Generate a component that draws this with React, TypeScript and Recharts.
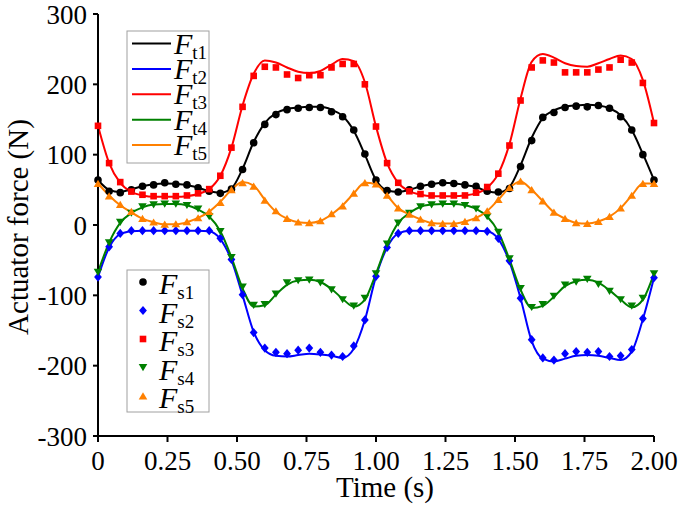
import { ComposedChart, Line, XAxis, YAxis } from "recharts";

const W = 685;
const H = 506;

// time grid (s)
const time = [
  0, 0.04, 0.08, 0.12, 0.16, 0.2, 0.24, 0.28, 0.32, 0.36, 0.4, 0.44, 0.48, 0.52, 0.56, 0.6, 0.64, 0.68, 0.72, 0.76,
  0.8, 0.84, 0.88, 0.92, 0.96, 1.0, 1.04, 1.08, 1.12, 1.16, 1.2, 1.24, 1.28, 1.32, 1.36, 1.4, 1.44, 1.48, 1.52, 1.56,
  1.6, 1.64, 1.68, 1.72, 1.76, 1.8, 1.84, 1.88, 1.92, 1.96, 2.0,
];

// theoretical curves
const ft1 = [
  64, 50, 47, 51, 55, 58, 59, 58.5, 57, 53, 48, 46, 52, 80, 118, 145, 159, 165, 167, 168, 168, 164, 155, 134, 100, 64,
  49, 47, 50, 55, 58, 60, 59.5, 57, 54, 48, 46, 54, 85, 124, 152, 163, 168, 170, 171, 170, 166, 156, 135, 101, 64,
];
const ft2 = [
  -74, -32, -13, -9, -8, -8, -8, -8, -8, -8, -9, -20, -50, -100, -152, -178, -186, -187, -185, -183, -184, -186, -189, -176, -135, -73,
  -32, -12, -8, -8, -8, -8, -8, -8, -8, -9, -20, -52, -104, -165, -190, -194, -190, -186, -185, -186, -189, -192, -180, -134, -75,
];
const ft3 = [
  141, 88, 60, 47, 42, 40, 40, 40, 41, 44, 51, 70, 110, 170, 215, 234, 231, 224, 218, 216, 219, 228, 236, 233, 203, 140,
  88, 60, 48, 43, 41, 41, 41, 42, 45, 53, 73, 115, 180, 232, 243, 238, 230, 226, 225, 230, 236, 241, 236, 206, 145,
];
const ft4 = [
  -67, -25, 3, 17, 25, 29, 30, 30, 28, 22, 12, -9, -46, -90, -116, -114, -99, -85, -79, -78, -81, -91, -105, -116, -106, -69,
  -27, 3, 17, 26, 29, 30, 30, 28, 23, 12, -10, -49, -92, -118, -115, -102, -87, -80, -78, -82, -93, -106, -117, -106, -69,
];
const ft5 = [
  59, 42, 28, 18, 9, 4, 1, 1, 4, 10, 19, 33, 50, 61, 56, 36, 19, 9, 4, 3, 6, 15, 28, 45, 60, 58,
  42, 24, 15, 8, 3, 2, 2, 5, 10, 20, 36, 53, 62, 50, 34, 18, 9, 3, 2, 5, 12, 24, 42, 59, 59,
];

// simulated samples
const fs1 = [
  64, 48, 46, 50, 55, 57, 60, 58, 57, 53, 48, 45, 51, 79, 117, 143, 157, 164, 166, 167, 167, 161, 154, 135, 101, 64,
  49, 47, 50, 55, 58, 60, 59, 57, 55, 48, 47, 52, 83, 120, 153, 160, 167, 169, 168, 170, 166, 154, 135, 100, 64,
];
const fs2 = [
  -74, -31, -12, -8, -8, -8, -8, -8, -8, -8, -8, -19, -49, -99, -153, -175, -181, -183, -178, -175, -181, -185, -187, -172, -135, -73,
  -32, -12, -8, -8, -8, -8, -8, -8, -8, -9, -19, -51, -104, -163, -189, -192, -183, -180, -181, -180, -187, -186, -177, -133, -75,
];
const fs3 = [
  141, 88, 61, 47.5, 43, 41, 41, 41, 42, 45, 51, 70, 110, 168, 212, 225, 224, 214, 209, 213, 213, 224, 229, 229, 200, 140,
  88, 60, 48, 44, 42, 42, 42, 42, 46, 54, 73, 113, 177, 224, 234, 231, 217, 217, 217, 221, 224, 235, 231, 202, 145,
];
const fs4 = [
  -67, -25, 4, 17, 26, 29, 30, 30, 28, 23, 12, -9, -46, -88, -114, -113, -98, -82, -79, -78, -82, -92, -106, -115, -104, -69,
  -27, 3, 17, 26, 29, 30, 30, 28, 23, 12, -10, -48, -90, -117, -113, -101, -85, -81, -77, -84, -94, -106, -115, -104, -69,
];
const fs5 = [
  59, 41, 29, 19, 9, 4, 1, 1.5, 4.5, 10, 19, 32, 50, 60, 55, 35, 20, 9, 4, 3, 6, 16, 27, 45, 60, 58,
  42, 24, 15, 8, 3, 2, 2, 5, 10, 20, 36, 53, 62, 50, 34, 18, 9, 3, 2, 5, 12, 24, 42, 59, 59,
];

const xTicks = [0, 0.25, 0.5, 0.75, 1.0, 1.25, 1.5, 1.75, 2.0];
const xTickLabels = ["0", "0.25", "0.50", "0.75", "1.00", "1.25", "1.50", "1.75", "2.00"];
const yTicks = [-300, -200, -100, 0, 100, 200, 300];

const lineNames = ["t1", "t2", "t3", "t4", "t5"];
const markNames = ["s1", "s2", "s3", "s4", "s5"];
const colors = ["#000000", "#0000ff", "#ff0000", "#008000", "#ff8000"];
const shapes = ["circle", "diamond", "square", "down", "up"];

const rows = time.map((t, i) => ({
  t,
  ft1: ft1[i], ft2: ft2[i], ft3: ft3[i], ft4: ft4[i], ft5: ft5[i],
  fs1: fs1[i], fs2: fs2[i], fs3: fs3[i], fs4: fs4[i], fs5: fs5[i],
}));

const serif = "Liberation Serif, Times New Roman, serif";

function Marker({ cx, cy, shape, color }: { cx: number; cy: number; shape: string; color: string }) {
  if (cx == null || cy == null) return null;
  if (shape === "circle") return <circle cx={cx} cy={cy} r={3.8} fill={color} />;
  if (shape === "square") return <rect x={cx - 3.3} y={cy - 3.3} width={6.6} height={6.6} fill={color} />;
  if (shape === "diamond")
    return <polygon points={`${cx},${cy - 4.6} ${cx + 3.9},${cy} ${cx},${cy + 4.6} ${cx - 3.9},${cy}`} fill={color} />;
  if (shape === "down")
    return <polygon points={`${cx - 4.3},${cy - 3.4} ${cx + 4.3},${cy - 3.4} ${cx},${cy + 3.8}`} fill={color} />;
  return <polygon points={`${cx - 4.3},${cy + 3.4} ${cx + 4.3},${cy + 3.4} ${cx},${cy - 3.8}`} fill={color} />;
}

function LegendLabel({ x, y, sub }: { x: number; y: number; sub: string }) {
  return (
    <text x={x} y={y} style={{ fontFamily: serif }} fontSize={30} fill="#000">
      <tspan fontStyle="italic">F</tspan>
      <tspan fontSize={19} dx={0} dy={5}>
        {sub}
      </tspan>
    </text>
  );
}

export default function App() {
  const axisLine = { stroke: "#000", strokeWidth: 2 };
  const tickStyle = { fill: "#000", fontSize: 27, fontFamily: serif, style: { fontFamily: serif } };
  return (
    <div style={{ position: "absolute", left: 0, top: 0, width: W, height: H, background: "#fff", fontFamily: serif }}>
      <ComposedChart width={W} height={H} data={rows} margin={{ top: 14, right: 31, bottom: 0, left: 0 }}>
        <XAxis
          xAxisId="b"
          dataKey="t"
          type="number"
          domain={[0, 2]}
          ticks={xTicks}
          tickFormatter={(v: number) => xTickLabels[xTicks.indexOf(v)] ?? String(v)}
          height={70}
          interval={0}
          axisLine={axisLine}
          tickLine={{ stroke: "#000", strokeWidth: 2 }}
          tickSize={6}
          tickMargin={9}
          tick={tickStyle}
        />
        <XAxis
          xAxisId="top"
          orientation="top"
          dataKey="t"
          type="number"
          domain={[0, 2]}
          height={0}
          tick={false}
          tickLine={false}
          axisLine={axisLine}
        />
        <YAxis
          yAxisId="l"
          type="number"
          domain={[-300, 300]}
          ticks={yTicks}
          interval={0}
          width={98}
          axisLine={axisLine}
          tickLine={{ stroke: "#000", strokeWidth: 2 }}
          tickSize={5}
          tickMargin={6}
          tick={tickStyle}
        />
        <YAxis
          yAxisId="r"
          orientation="right"
          type="number"
          domain={[-300, 300]}
          width={0}
          tick={false}
          tickLine={false}
          axisLine={axisLine}
        />
        {lineNames.map((n, k) => (
          <Line
            key={"f" + n}
            xAxisId="b"
            yAxisId="l"
            type="monotone"
            dataKey={"f" + n}
            stroke={colors[k]}
            strokeWidth={2}
            dot={false}
            activeDot={false}
            isAnimationActive={false}
          />
        ))}
        {markNames.map((n, k) => (
          <Line
            key={"f" + n}
            xAxisId="b"
            yAxisId="l"
            dataKey={"f" + n}
            stroke="none"
            strokeWidth={0}
            activeDot={false}
            isAnimationActive={false}
            dot={(p: any) => <Marker key={`${n}-${p.index}`} cx={p.cx} cy={p.cy} shape={shapes[k]} color={colors[k]} />}
          />
        ))}
      </ComposedChart>
      <svg width={W} height={H} style={{ position: "absolute", left: 0, top: 0, pointerEvents: "none" }}>
        <text
          x={28}
          y={227}
          transform="rotate(-90 28 227)"
          textAnchor="middle"
          style={{ fontFamily: serif }}
          fontSize={29}
          fill="#000"
        >
          Actuator force (N)
        </text>
        <text x={385} y={497} textAnchor="middle" style={{ fontFamily: serif }} fontSize={29} fill="#000">
          Time (s)
        </text>

        <rect x={127} y={31} width={82} height={132} fill="#fff" stroke="#a0a0a0" strokeWidth={1} />
        {lineNames.map((n, k) => {
          const ly = 43.5 + k * 25.4;
          return (
            <g key={"lt" + n}>
              <line x1={132} x2={171} y1={ly} y2={ly} stroke={colors[k]} strokeWidth={2} />
              <LegendLabel x={174} y={ly + 10} sub={n} />
            </g>
          );
        })}

        <rect x={127} y={270} width={82} height={142} fill="#fff" stroke="#a0a0a0" strokeWidth={1} />
        {markNames.map((n, k) => {
          const my = 282 + k * 28.5;
          return (
            <g key={"ls" + n}>
              <Marker cx={143} cy={my} shape={shapes[k]} color={colors[k]} />
              <LegendLabel x={159} y={my + 12} sub={n} />
            </g>
          );
        })}
      </svg>
    </div>
  );
}
